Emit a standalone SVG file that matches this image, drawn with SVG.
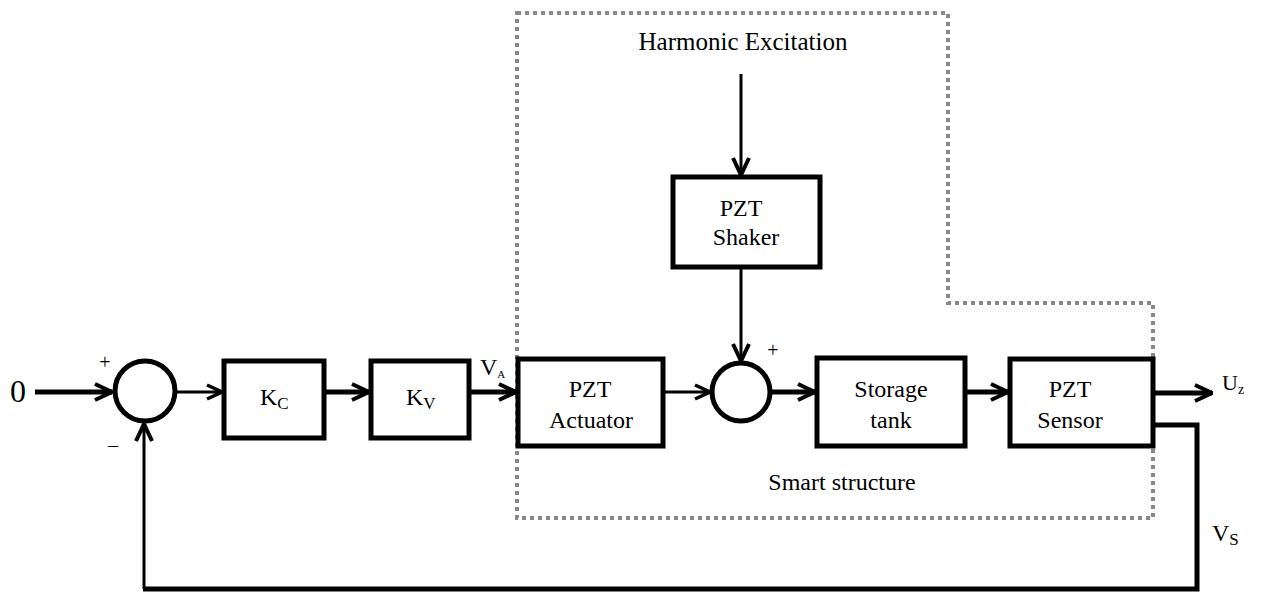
<svg xmlns="http://www.w3.org/2000/svg" width="1262" height="594" viewBox="0 0 1262 594">
  <style>
    .lbl { font-size: 24px; text-anchor: middle; }
    .box { fill: #fff; stroke: #000; stroke-width: 5; }
    .sum { fill: #fff; stroke: #000; stroke-width: 5; }
    .thin { fill: none; stroke: #000; stroke-width: 3; }
    .thick { fill: none; stroke: #000; stroke-width: 5; }
    .region { fill: none; stroke: #888; stroke-width: 4; stroke-dasharray: 4 4; }
  </style>
  <defs>
    <marker id="arrow" viewBox="0 0 18 18" refX="17" refY="9" markerWidth="18" markerHeight="18" markerUnits="userSpaceOnUse" orient="auto">
      <path d="M2,2 L17,9 L2,16" fill="none" stroke="#000" stroke-width="3.4" stroke-linejoin="miter"/>
    </marker>
    <marker id="arrowBig" viewBox="0 0 20 20" refX="19" refY="10" markerWidth="20" markerHeight="20" markerUnits="userSpaceOnUse" orient="auto">
      <path d="M2,2 L19,10 L2,18" fill="none" stroke="#000" stroke-width="4" stroke-linejoin="miter"/>
    </marker>
  </defs>

  <g font-family="'Liberation Serif', Tinos, 'Times New Roman', 'DejaVu Serif', serif" fill="#000">
  <!-- smart structure boundary -->
  <path id="smart-structure" class="region" d="M517,13 H948 V303 H1153 V518 H517 Z"/>
  <text class="lbl" x="842" y="490">Smart structure</text>

  <!-- connectors -->
  <g id="connectors">
    <line class="thick" x1="35" y1="392" x2="112" y2="392" marker-end="url(#arrowBig)"/>
    <line class="thin" x1="176" y1="392" x2="222" y2="392" marker-end="url(#arrow)"/>
    <line class="thick" x1="326" y1="392" x2="369" y2="392" marker-end="url(#arrowBig)"/>
    <line class="thick" x1="471" y1="392" x2="516" y2="392" marker-end="url(#arrowBig)"/>
    <line class="thin" x1="665" y1="392" x2="710" y2="392" marker-end="url(#arrow)"/>
    <line class="thick" x1="772" y1="392" x2="815" y2="392" marker-end="url(#arrowBig)"/>
    <line class="thick" x1="967" y1="392" x2="1008" y2="392" marker-end="url(#arrowBig)"/>
    <line class="thick" x1="1155" y1="393" x2="1212" y2="393" marker-end="url(#arrowBig)"/>
    <line class="thin" x1="741" y1="74" x2="741" y2="175" marker-end="url(#arrowBig)"/>
    <line class="thin" x1="741" y1="269" x2="741" y2="361" marker-end="url(#arrowBig)"/>
    <!-- sensor feedback path -->
    <path class="thick" d="M1155,425 H1197 V589 H143"/>
    <line class="thin" x1="144" y1="589" x2="144" y2="424" marker-end="url(#arrowBig)"/>
  </g>

  <!-- input -->
  <g id="input">
    <text x="10" y="402" font-size="32">0</text>
  </g>

  <g id="sum1">
    <circle class="sum" cx="145" cy="391" r="30"/>
    <text x="105" y="369" class="lbl" style="font-size:20px">+</text>
    <text x="113" y="452" class="lbl" style="font-size:20px">–</text>
  </g>

  <g id="kc">
    <rect class="box" x="224" y="361" width="100" height="77"/>
    <text x="260" y="405" font-size="24">K<tspan font-size="17" dy="4">C</tspan></text>
  </g>

  <g id="kv">
    <rect class="box" x="371" y="361" width="98" height="77"/>
    <text x="406" y="405" font-size="24">K<tspan font-size="17" dy="4">V</tspan></text>
  </g>

  <g id="va-label">
    <text x="480" y="375" font-size="24">V<tspan font-size="11" dy="3">A</tspan></text>
  </g>

  <g id="pzt-actuator">
    <rect class="box" x="518" y="359" width="145" height="87"/>
    <text class="lbl" x="590" y="397">PZT</text>
    <text class="lbl" x="591" y="428">Actuator</text>
  </g>

  <g id="pzt-shaker">
    <rect class="box" x="673" y="177" width="147" height="90"/>
    <text class="lbl" x="741" y="216">PZT</text>
    <text class="lbl" x="746" y="245">Shaker</text>
  </g>

  <g id="harmonic-excitation">
    <text class="lbl" x="743" y="50" style="font-size:25px">Harmonic Excitation</text>
  </g>

  <g id="sum2">
    <circle class="sum" cx="741" cy="392" r="29"/>
    <text x="773" y="357" class="lbl" style="font-size:20px">+</text>
  </g>

  <g id="storage-tank">
    <rect class="box" x="817" y="358" width="148" height="88"/>
    <text class="lbl" x="891" y="397">Storage</text>
    <text class="lbl" x="891" y="428">tank</text>
  </g>

  <g id="pzt-sensor">
    <rect class="box" x="1010" y="359" width="143" height="87"/>
    <text class="lbl" x="1070" y="397">PZT</text>
    <text class="lbl" x="1070" y="428">Sensor</text>
  </g>

  <g id="output-label">
    <text x="1222" y="390" font-size="22">U<tspan font-size="14" dy="4">z</tspan></text>
  </g>

  <g id="vs-label">
    <text x="1212" y="541" font-size="24">V<tspan font-size="17" dy="4">S</tspan></text>
  </g>
  </g>
</svg>
